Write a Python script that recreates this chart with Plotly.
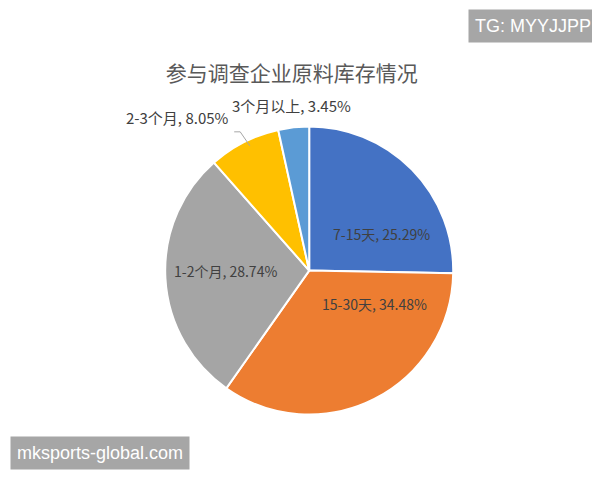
import plotly.graph_objects as go

# survey: raw material inventory of participating companies
labels = ["7-15天", "15-30天", "1-2个月", "2-3个月", "3个月以上"]
shares = [25.29, 34.48, 28.74, 8.05, 3.45]
colors = ["#4472C4", "#ED7D31", "#A5A5A5", "#FFC000", "#5B9BD5"]

font_cn = "Noto Sans CJK SC"
txt_color = "#404040"

fig = go.Figure(go.Pie(
    labels=labels,
    values=shares,
    sort=False,
    direction="clockwise",
    rotation=0,
    marker=dict(colors=colors, line=dict(color="white", width=2)),
    textinfo="none",
    domain=dict(x=[0.262, 0.742], y=[0.153, 0.753]),
    showlegend=False,
    hoverinfo="label+percent",
))

# data labels placed like the Excel original (paper coords, anchor)
label_spots = [
    (0.622, 0.530, "center", 14),
    (0.610, 0.384, "center", 14),
    (0.362, 0.452, "center", 14),
    (0.371, 0.772, "right", 15),
    (0.473, 0.797, "center", 15),
]
for name, val, (lx, ly, anchor, size) in zip(labels, shares, label_spots):
    fig.add_annotation(x=lx, y=ly, xref="paper", yref="paper", xanchor=anchor,
                       yanchor="middle", text=f"{name}, {val:.2f}%", showarrow=False,
                       font=dict(family=font_cn, size=size, color=txt_color))

# leader line for the 2-3个月 slice
fig.add_shape(type="path", xref="paper", yref="paper",
              path="M 0.377 0.742 L 0.387 0.742 L 0.403 0.713",
              line=dict(color="#A6A6A6", width=1))

# watermark boxes
fig.add_annotation(x=0.983, y=0.962, xref="paper", yref="paper", xanchor="right",
                   yanchor="middle", text="TG: MYYJJPP", showarrow=False,
                   bgcolor="#A6A6A6", borderpad=6,
                   font=dict(family="Liberation Sans", size=18, color="white"))
fig.add_annotation(x=0.003, y=0.072, xref="paper", yref="paper", xanchor="left",
                   yanchor="middle", text="mksports-global.com", showarrow=False,
                   bgcolor="#A6A6A6", borderpad=6,
                   font=dict(family="Liberation Sans", size=18, color="white"))

fig.update_layout(
    width=600, height=480,
    margin=dict(l=0, r=0, t=0, b=0),
    paper_bgcolor="white",
    title=dict(text="参与调查企业原料库存情况", x=0.473, y=0.8625, xanchor="center",
               yanchor="middle", font=dict(family=font_cn, size=21, color="#595959")),
)

fig.write_html("out.html")
